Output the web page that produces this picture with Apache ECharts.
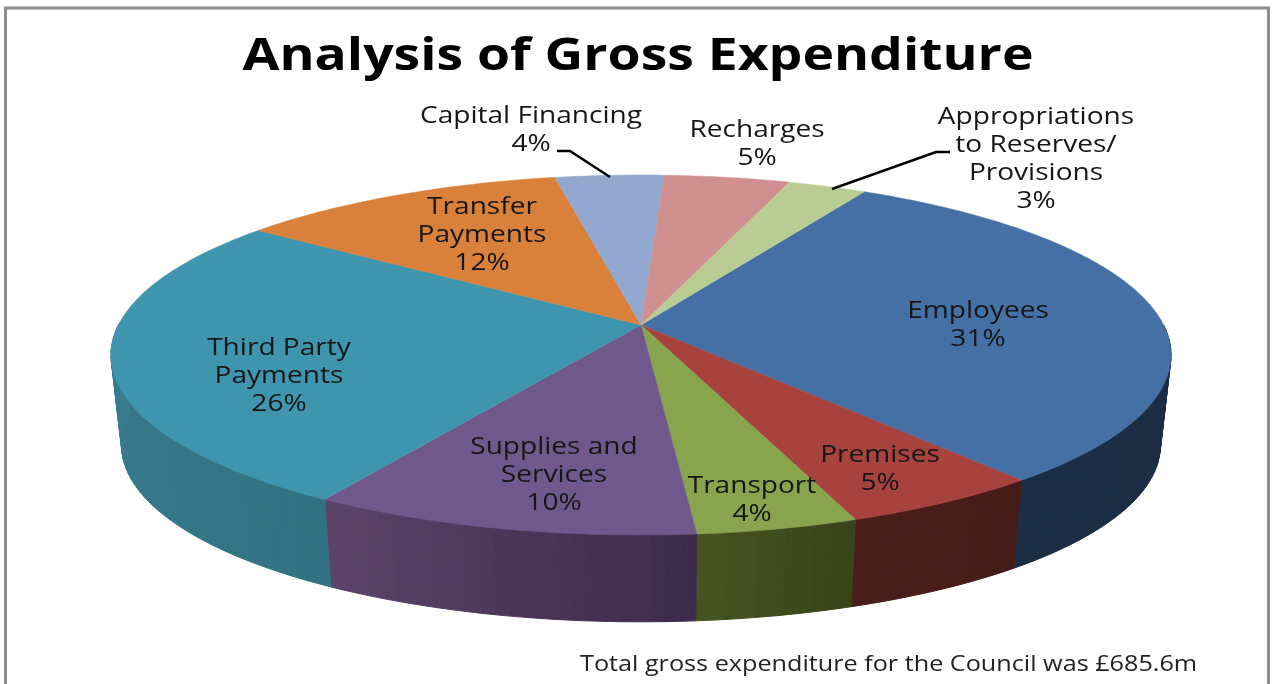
<!DOCTYPE html>
<html>
<head>
<meta charset="utf-8">
<title>Analysis of Gross Expenditure</title>
<script src="https://cdn.jsdelivr.net/npm/echarts@6/dist/echarts.min.js"></script>
<style>
  html, body { margin: 0; padding: 0; background: #fff; overflow: hidden; }
  #chart { width: 1273px; height: 684px; }
</style>
</head>
<body>
<div id="chart"></div>
<script>
const categories = ['Employees', 'Premises', 'Transport', 'Supplies and Services', 'Third Party Payments',
  'Transfer Payments', 'Capital Financing', 'Recharges', 'Appropriations to Reserves/ Provisions'];
// they round to the printed percentages
const shares = [30.9, 5.3, 4.2, 10.1, 26.4, 11.8, 3.9, 4.5, 2.8];
const labelLines = ['Employees', 'Premises', 'Transport', 'Supplies and\nServices', 'Third Party\nPayments',
  'Transfer\nPayments', 'Capital Financing', 'Recharges', 'Appropriations\nto Reserves/\nProvisions'];

const faceColors = ['#4570a5', '#a7423f', '#88a44d', '#70578c', '#4095ae', '#d9803b', '#92a8cf', '#cf908f', '#b8cc94'];
const wallLeft = ['#1b2d45', '#4a1d1a', '#475520', '#5d446b', '#3f8499', '#7a4a20', '#56657f', '#7d5655', '#6e7a58'];
const wallRight = ['#1a2b42', '#451b18', '#38441a', '#3d2b4c', '#317282', '#7a4a20', '#56657f', '#7d5655', '#6e7a58'];

// label centre (first line) for each slice, and the two leader lines
const labelAnchors = [[978, 311], [880, 455], [752, 486], [554, 447], [279, 348], [482, 207], [531, 116], [757, 130], [1036, 117]];
const leaders = [
  [[557, 151], [570, 151], [610, 177]],
  [[950, 152], [936, 152], [832, 189]]
];

const startAngle = 29.3;
const total = shares.reduce((a, b) => a + b, 0);
const lineH = 28;
const stretch = 1.22;
const textColor = '#161616';
const fontName = '"Open Sans", sans-serif';

// perspective disk: unit circle seen from above, drop/scale give the lower rim
function project(deg, drop, scale) {
  const t = deg * Math.PI / 180;
  const X = Math.sin(t), Y = -Math.cos(t);
  const d = 1 - 0.1667 * Y;
  return [641 + scale * 522.6 * X / d, 325 + drop + scale * 175 * Y / d];
}

function sliceRange(i) {
  let before = 0;
  for (let k = 0; k < i; k++) before += shares[k];
  return [
    startAngle + echarts.number.linearMap(before, [0, total], [0, 360]),
    startAngle + echarts.number.linearMap(before + shares[i], [0, total], [0, 360])
  ];
}

function renderWall(params, api) {
  const i = params.dataIndex;
  const [a0, a1] = sliceRange(i);
  const children = [];
  const steps = Math.ceil((a1 - a0) / 1.5);
  for (let s = 0; s < steps; s++) {
    const p = a0 + (a1 - a0) * s / steps;
    const q = a0 + (a1 - a0) * (s + 1) / steps;
    // back of the rim is hidden by the top face
    if (Math.cos((p + q) / 2 * Math.PI / 180) > 0) continue;
    const c = echarts.color.lerp(s / steps, [wallRight[i], wallLeft[i]]);
    children.push({
      type: 'polygon',
      shape: { points: [project(p, 0, 1), project(q, 0, 1), project(q, 91, 0.98), project(p, 91, 0.98)] },
      style: { fill: c, stroke: c, lineWidth: 1 }
    });
  }
  return { type: 'group', children: children };
}

function renderFace(params, api) {
  const i = params.dataIndex;
  const [a0, a1] = sliceRange(i);
  const pts = [[641, 325]];
  const steps = Math.ceil((a1 - a0) / 1);
  for (let s = 0; s <= steps; s++) pts.push(project(a0 + (a1 - a0) * s / steps, 0, 1));
  return {
    type: 'polygon',
    shape: { points: pts },
    style: { fill: faceColors[i], stroke: faceColors[i], lineWidth: 0.5 }
  };
}

function renderLabel(params, api) {
  const i = params.dataIndex;
  return {
    type: 'text',
    x: labelAnchors[i][0],
    y: labelAnchors[i][1] - lineH / 2,
    scaleX: stretch,
    style: {
      text: labelLines[i] + '\n' + Math.round(api.value(0)) + '%',
      font: '23px ' + fontName,
      lineHeight: lineH,
      fill: textColor,
      align: 'center',
      verticalAlign: 'top'
    }
  };
}

const chart = echarts.init(document.getElementById('chart'), null, { renderer: 'canvas' });
chart.setOption({
  animation: false,
  backgroundColor: '#fff',
  tooltip: { show: false },
  series: [
    { type: 'custom', name: 'walls', coordinateSystem: 'none', z: 1, renderItem: renderWall, data: shares },
    { type: 'custom', name: 'faces', coordinateSystem: 'none', z: 2, renderItem: renderFace, data: shares },
    { type: 'custom', name: 'labels', coordinateSystem: 'none', z: 4, renderItem: renderLabel, data: shares }
  ],
  graphic: [
    { type: 'rect', z: 0, shape: { x: 5.5, y: 8, width: 1263, height: 700 }, style: { fill: 'none', stroke: '#8c8c8c', lineWidth: 3 } },
    { type: 'polyline', z: 3, shape: { points: leaders[0] }, style: { fill: 'none', stroke: '#000', lineWidth: 2.5 } },
    { type: 'polyline', z: 3, shape: { points: leaders[1] }, style: { fill: 'none', stroke: '#000', lineWidth: 2.5 } },
    {
      type: 'text', z: 5, x: 638, y: 57, scaleX: 1.215,
      style: { text: 'Analysis of Gross Expenditure', font: 'bold 44px ' + fontName, fill: '#000', align: 'center', verticalAlign: 'middle' }
    },
    {
      type: 'text', z: 5, x: 580, y: 665, scaleX: 1.2,
      style: { text: 'Total gross expenditure for the Council was £685.6m', font: '21px ' + fontName, fill: '#222', align: 'left', verticalAlign: 'middle' }
    }
  ]
});
</script>
</body>
</html>
